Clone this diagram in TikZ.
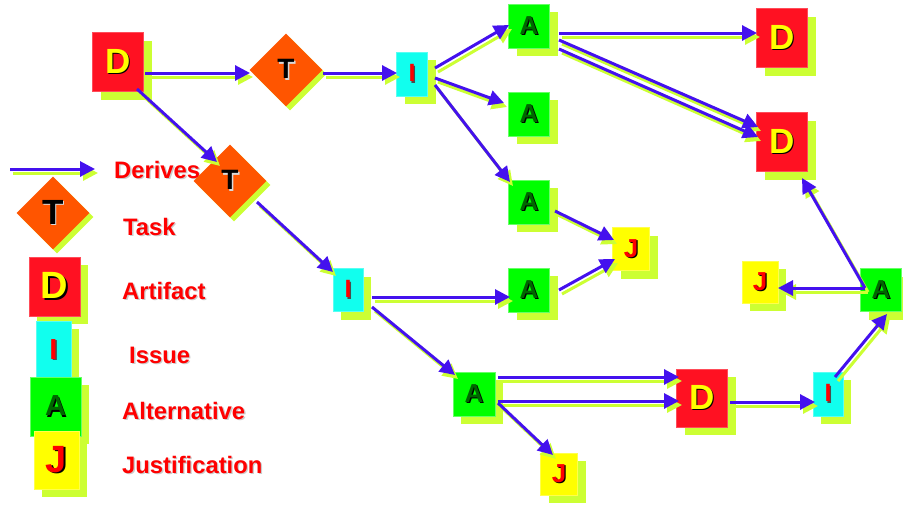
\documentclass[tikz,border=0pt]{standalone}
\usepackage{fontspec}
\setmainfont{Liberation Sans}
\usetikzlibrary{shapes.geometric,shadows,arrows.meta}
\definecolor{lg}{HTML}{CCFF33}
\definecolor{dred}{HTML}{FF1122}
\definecolor{torange}{HTML}{FF5500}
\definecolor{icyan}{HTML}{11FFEE}
\definecolor{agreen}{HTML}{00FF00}
\definecolor{adark}{HTML}{006600}
\definecolor{jyellow}{HTML}{FFFF00}
\definecolor{ablue}{HTML}{4411EE}
\definecolor{tred}{HTML}{FF0000}
\newcommand{\shlet}[3]{\rlap{\kern1.3pt\raisebox{-1.3pt}{\color{#1}#3}}{\color{#2}#3}}
\newcommand{\Dt}{\shlet{black}{jyellow}{D}}
\newcommand{\At}{\shlet{black}{adark}{A}}
\newcommand{\It}{\shlet{black!70}{tred}{I}}
\newcommand{\Jt}{\shlet{black}{tred}{J}}
\newcommand{\Tt}{\shlet{black!15}{black}{T}}
\newcommand{\Lt}[1]{\shlet{black!20}{tred}{#1}}
\begin{document}
\begin{tikzpicture}[x=1pt,y=-1pt,
  shadowed/.style={drop shadow={shadow xshift=8pt,shadow yshift=-8pt,fill=lg,opacity=1}},
  dshadowed/.style={drop shadow={shadow xshift=4pt,shadow yshift=-4pt,fill=lg,opacity=1}},
  boxbase/.style={rectangle,inner sep=0pt,shadowed,line width=0.6pt},
  dbox/.style={boxbase,fill=dred,draw=dred!75!white,minimum width=51pt,minimum height=59pt,font=\fontsize{35}{35}\selectfont\bfseries},
  ibox/.style={boxbase,fill=icyan,draw=icyan!70!white,minimum width=31pt,minimum height=44pt,font=\fontsize{25}{25}\selectfont\bfseries},
  abox/.style={boxbase,fill=agreen,draw=agreen!60!white,minimum width=41pt,minimum height=44pt,font=\fontsize{26}{26}\selectfont\bfseries},
  jbox/.style={boxbase,fill=jyellow,draw=jyellow!70!white,minimum width=37pt,minimum height=43pt,font=\fontsize{26}{26}\selectfont\bfseries},
  tdia/.style={diamond,aspect=1,inner sep=0pt,dshadowed,fill=torange,minimum width=73pt,minimum height=73pt,font=\fontsize{28}{28}\selectfont\bfseries},
  lbl/.style={anchor=base west,inner sep=0pt,font=\fontsize{23.8}{24}\selectfont\bfseries},
  flow/.style={draw=ablue,line width=3pt,-{Triangle[length=15pt,width=15pt]},
    preaction={draw=lg,line width=3pt,-{Triangle[length=15pt,width=15pt]},transform canvas={shift={(3pt,-4pt)}}}}
]
\fill[white] (0,0) rectangle (903,504);
\useasboundingbox (0,0) rectangle (903,504);

% legend
\coordinate (lgs) at (10,169);
\coordinate (lge) at (95,169);
\draw[flow] (lgs) -- (lge);
\node[tdia,font=\fontsize{35}{35}\selectfont\bfseries] (LT) at (53,213) {\Tt};
\node[dbox,font=\fontsize{38}{38}\selectfont\bfseries] (LD) at (54.5,286.5) {\Dt};
\node[ibox,minimum width=35pt,minimum height=58pt,font=\fontsize{29}{29}\selectfont\bfseries] (LI) at (53.5,350) {\It};
\node[abox,minimum width=51pt,minimum height=59pt,font=\fontsize{29}{29}\selectfont\bfseries] (LA) at (55.5,406.5) {\At};
\node[jbox,minimum width=45pt,minimum height=58pt,font=\fontsize{38}{38}\selectfont\bfseries] (LJ) at (56.5,460) {\Jt};
\node[lbl] (l1) at (114,178) {\Lt{Derives}};
\node[lbl] (l2) at (123,235) {\Lt{Task}};
\node[lbl] (l3) at (122,299) {\Lt{Artifact}};
\node[lbl] (l4) at (129,363) {\Lt{Issue}};
\node[lbl] (l5) at (122,419) {\Lt{Alternative}};
\node[lbl] (l6) at (122,473) {\Lt{Justification}};

% diagram nodes
\node[dbox] (D1) at (118,62) {\Dt};
\node[tdia] (T1) at (286,70) {\Tt};
\node[ibox] (I1) at (412,74) {\It};
\node[abox] (A1) at (529,26) {\At};
\node[abox] (A2) at (529,114) {\At};
\node[abox] (A3) at (529,202) {\At};
\node[dbox] (D2) at (782,38) {\Dt};
\node[dbox] (D3) at (782,142) {\Dt};
\node[tdia] (T2) at (230,181) {\Tt};
\node[jbox] (J1) at (631,249) {\Jt};
\node[ibox,minimum width=30pt,minimum height=43pt] (I2) at (348,290) {\It};
\node[abox] (A4) at (529,290) {\At};
\node[abox,minimum width=42pt] (A5) at (474,394) {\At};
\node[dbox,minimum height=58pt] (D4) at (702,398) {\Dt};
\node[ibox,minimum width=30pt] (I3) at (828,394) {\It};
\node[jbox,minimum height=42pt] (J2) at (559,474) {\Jt};
\node[jbox,minimum width=36pt,minimum height=42pt] (J3) at (760,282) {\Jt};
\node[abox,minimum height=43pt] (A6) at (881,290) {\At};

% connectors
\draw[flow] ([shift={(27,11)}]D1.center) -- ([shift={(-36,3)}]T1.center);
\draw[flow] ([shift={(37,3)}]T1.center) -- ([shift={(-15,-1)}]I1.center);
\draw[flow] ([shift={(19,27)}]D1.center) -- ([shift={(-13,-19)}]T2.center);
\draw[flow] ([shift={(27,21)}]T2.center) -- ([shift={(-15,-18)}]I2.center);
\draw[flow] ([shift={(23,-6)}]I1.center) -- ([shift={(-20,-1)}]A1.center);
\draw[flow] ([shift={(23,4)}]I1.center) -- ([shift={(-25,-11)}]A2.center);
\draw[flow] ([shift={(23,11)}]I1.center) -- ([shift={(-19,-20)}]A3.center);
\draw[flow] ([shift={(30,7)}]A1.center) -- ([shift={(-25,-5)}]D2.center);
\draw[flow] ([shift={(30,14)}]A1.center) -- ([shift={(-24,-15)}]D3.center);
\draw[flow] ([shift={(30,23)}]A1.center) -- ([shift={(-24,-5)}]D3.center);
\draw[flow] ([shift={(26,9)}]A3.center) -- ([shift={(-17,-9)}]J1.center);
\draw[flow] ([shift={(30,0)}]A4.center) -- ([shift={(-16,10)}]J1.center);
\draw[flow] ([shift={(24,7)}]I2.center) -- ([shift={(-19,7)}]A4.center);
\draw[flow] ([shift={(24,17)}]I2.center) -- ([shift={(-19,-19)}]A5.center);
\draw[flow] ([shift={(24,-17)}]A5.center) -- ([shift={(-23,-21)}]D4.center);
\draw[flow] ([shift={(24,7)}]A5.center) -- ([shift={(-23,3)}]D4.center);
\draw[flow] ([shift={(24,9)}]A5.center) -- ([shift={(-6,-19)}]J2.center);
\draw[flow] ([shift={(28,4)}]D4.center) -- ([shift={(-13,8)}]I3.center);
\draw[flow] ([shift={(7,-17)}]I3.center) -- ([shift={(6,24)}]A6.center);
\draw[flow] ([shift={(-16,-2)}]A6.center) -- ([shift={(20,36)}]D3.center);
\draw[flow] ([shift={(-16,-2)}]A6.center) -- ([shift={(18,6)}]J3.center);
\end{tikzpicture}
\end{document}
